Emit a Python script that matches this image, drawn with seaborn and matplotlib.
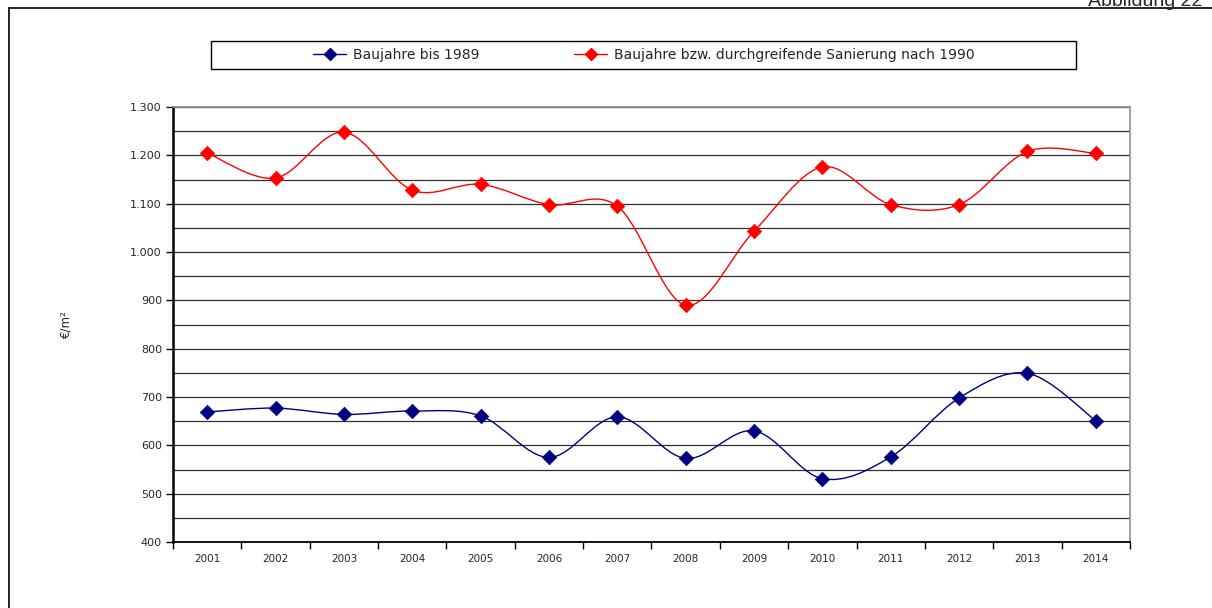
import numpy as np
import seaborn as sns
import matplotlib.pyplot as plt
from matplotlib.path import Path
from matplotlib.patches import PathPatch, Rectangle
from matplotlib.lines import Line2D

sns.set_theme(style="white")
plt.rcParams['font.family'] = ['DejaVu Sans']

years = [2001, 2002, 2003, 2004, 2005, 2006, 2007, 2008, 2009, 2010, 2011, 2012, 2013, 2014]
bis_1989 = [669, 677, 664, 671, 661, 575, 659, 573, 630, 531, 576, 698, 749, 651]
nach_1990 = [1205, 1153, 1248, 1128, 1140, 1098, 1095, 890, 1043, 1176, 1098, 1098, 1208, 1204]
labels = ["Baujahre bis 1989", "Baujahre bzw. durchgreifende Sanierung nach 1990"]
colors = ["#000080", "#FF0000"]


def smooth_path(xs, ys):
    # Bezier path like the spreadsheet "smoothed line"
    p = np.column_stack([xs, ys]).astype(float)
    ext = np.vstack([p[0], p, p[-1]])
    verts = [tuple(p[0])]
    codes = [Path.MOVETO]
    for i in range(len(p) - 1):
        c1 = ext[i + 1] + (ext[i + 2] - ext[i]) / 6
        c2 = ext[i + 2] - (ext[i + 3] - ext[i + 1]) / 6
        verts += [tuple(c1), tuple(c2), tuple(p[i + 1])]
        codes += [Path.CURVE4] * 3
    return Path(verts, codes)


fig = plt.figure(figsize=(12.12, 6.08), dpi=100)
ax = fig.add_axes([173 / 1212, 1 - 542 / 608, (1130 - 173) / 1212, (542 - 107) / 608])

for vals, col in zip([bis_1989, nach_1990], colors):
    ax.add_patch(PathPatch(smooth_path(years, vals), facecolor="none", edgecolor=col, lw=1.0, zorder=3))
    sns.scatterplot(x=years, y=vals, marker="D", color=col, s=55, edgecolor=col, linewidth=0.5, ax=ax, zorder=4)

ax.set_xlim(2000.5, 2014.5)
ax.set_ylim(400, 1300)
ax.set_xticks(years)
ax.set_xticklabels([str(y) for y in years], fontsize=7.5)
ax.set_xticks(np.arange(2000.5, 2015, 1), minor=True)
ax.tick_params(axis="x", which="major", length=0, pad=9)
ax.tick_params(axis="x", which="minor", length=5, width=1, color="black", direction="out", bottom=True)
ax.set_yticks(range(400, 1301, 100))
ax.set_yticklabels(["{:,}".format(v).replace(",", ".") for v in range(400, 1301, 100)], fontsize=8)
ax.set_yticks(range(450, 1300, 100), minor=True)
ax.tick_params(axis="y", which="major", length=5, width=1, color="black", direction="out", left=True, pad=3)
ax.tick_params(axis="y", which="minor", length=0)
ax.yaxis.grid(True, which="both", color="#303030", lw=0.9)
ax.set_axisbelow(True)

ax.spines["left"].set_color("black")
ax.spines["left"].set_linewidth(1.8)
ax.spines["bottom"].set_color("black")
ax.spines["bottom"].set_linewidth(1.3)
for s in ["top", "right"]:
    ax.spines[s].set_color("#909090")
    ax.spines[s].set_linewidth(1.2)

ax.set_ylabel("€/m²", fontsize=8.5)
ax.yaxis.set_label_coords((72 - 173) / 957, 0.5)
ax.set_xlabel("")

# legend box
fig.patches.append(Rectangle((211 / 1212, 1 - 69 / 608), (1076 - 211) / 1212, 28 / 608,
                             transform=fig.transFigure, facecolor="white", edgecolor="black", lw=1.0))
handles = [Line2D([], [], color=c, marker="D", markersize=6, lw=1.0) for c in colors]
fig.legend(handles, labels, loc="center", bbox_to_anchor=(644 / 1212, 1 - 55 / 608), ncol=2,
           frameon=False, fontsize=10, handlelength=2.4, handletextpad=0.5, columnspacing=6.8)

# outer frame
fig.add_artist(Line2D([9 / 1212, 9 / 1212], [0, 1 - 8 / 608], transform=fig.transFigure, color="black", lw=1.2))
fig.add_artist(Line2D([9 / 1212, 1], [1 - 8 / 608, 1 - 8 / 608], transform=fig.transFigure, color="black", lw=1.2))
fig.text(1088 / 1212, 1 - 6 / 608, "Abbildung 22", fontsize=14, family="Liberation Sans", va="baseline", ha="left")

fig.savefig("out.png", dpi=100)
